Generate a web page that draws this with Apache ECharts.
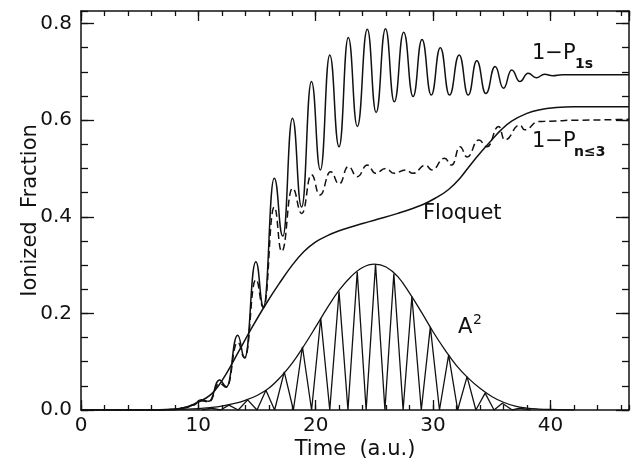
<!DOCTYPE html>
<html>
<head>
<meta charset="utf-8">
<script src="https://cdn.jsdelivr.net/npm/echarts@6/dist/echarts.min.js"></script>
<style>
html, body { margin: 0; padding: 0; background: #fff; }
#chart { width: 632px; height: 467px; }
</style>
</head>
<body>
<div id="chart"></div>
<script>
// axis ranges (a.u. / fraction)
const xMax = 46.7;
const yMax = 0.826;
const xMajor = 10, xMinor = 2;
const yMajor = 0.2, yMinor = 0.05;

// 1 - P_1s  [time, fraction], read at peaks / troughs
const p1s = [
    [0, 0], [6, 0], [8, 0.001], [9, 0.005], [9.5, 0.010], [10.25, 0.021], [10.9, 0.018],
    [11.8, 0.062], [12.4, 0.048], [13.35, 0.155], [13.95, 0.108], [14.9, 0.307], [15.55, 0.214],
    [16.47, 0.480], [17.2, 0.360], [18.02, 0.604], [18.8, 0.420], [19.64, 0.680], [20.4, 0.497],
    [21.2, 0.735], [21.99, 0.545], [22.78, 0.771], [23.55, 0.587], [24.4, 0.788], [25.15, 0.616],
    [25.95, 0.789], [26.7, 0.638], [27.5, 0.782], [28.3, 0.649], [29.06, 0.767], [29.85, 0.652],
    [30.62, 0.750], [31.4, 0.652], [32.23, 0.735], [33.0, 0.652], [33.73, 0.723], [34.5, 0.655],
    [35.29, 0.711], [36.0, 0.666], [36.7, 0.704], [37.4, 0.680], [38.1, 0.697], [38.8, 0.688],
    [39.5, 0.695], [40.2, 0.692], [41, 0.694], [46.7, 0.694]
];

// 1 - P_{n<=3}  (dashed)
const pn3 = [
    [0, 0], [6, 0], [8, 0.001], [9, 0.005], [9.5, 0.010], [10.25, 0.019], [10.9, 0.017],
    [11.8, 0.055], [12.4, 0.047], [13.35, 0.140], [13.95, 0.108], [14.9, 0.270], [15.55, 0.212],
    [16.47, 0.420], [17.1, 0.328], [18.02, 0.459], [18.82, 0.407], [19.64, 0.487], [20.35, 0.445],
    [21.28, 0.493], [22.0, 0.468], [22.78, 0.504], [23.54, 0.483], [24.4, 0.507], [25.1, 0.490],
    [25.95, 0.500], [26.7, 0.490], [27.65, 0.497], [28.3, 0.490], [29.35, 0.507], [29.9, 0.497],
    [30.98, 0.521], [31.6, 0.507], [32.3, 0.545], [32.9, 0.524], [33.9, 0.559], [34.6, 0.545],
    [35.6, 0.587], [36.1, 0.559], [37.4, 0.590], [37.8, 0.580], [39.0, 0.597], [40, 0.598],
    [42, 0.600], [46.7, 0.602]
];

// Floquet rate result
const floquet = [
    [0, 0], [6, 0], [8.4, 0.003], [9.8, 0.014], [11.2, 0.035], [12.4, 0.076], [13.5, 0.124],
    [14.6, 0.172], [15.8, 0.221], [16.9, 0.262], [18.0, 0.300], [19.0, 0.328], [20.0, 0.348],
    [21.0, 0.361], [22.0, 0.371], [23.0, 0.379], [24.0, 0.386], [25.0, 0.393], [27, 0.407],
    [29.1, 0.425], [30.3, 0.440], [31.3, 0.456], [32.3, 0.480], [33.3, 0.511], [34.2, 0.537],
    [35.0, 0.559], [35.8, 0.580], [36.7, 0.598], [38, 0.614], [39.0, 0.621], [40.5, 0.626],
    [42, 0.628], [46.7, 0.628]
];

// A^2 envelope
const envelope = [
    [6, 0], [8, 0.001], [10, 0.003], [11, 0.005], [12, 0.008], [13, 0.013], [14, 0.020],
    [15, 0.030], [16, 0.045], [17, 0.068], [18, 0.097], [19, 0.133], [20, 0.172], [21, 0.212],
    [22, 0.248], [23, 0.276], [24, 0.295], [25, 0.302], [26, 0.296], [27, 0.276], [28, 0.242],
    [29, 0.203], [30, 0.162], [31, 0.125], [32, 0.092], [33, 0.066], [34, 0.045], [35, 0.028],
    [36, 0.016], [37, 0.008], [38, 0.004], [39, 0.002], [40, 0.001], [42, 0]
];

// A^2 field oscillation (peaks on envelope, zeros between)
const a2 = [
    [10.3, 0], [11.1, 0.004], [11.9, 0], [12.6, 0.010], [13.4, 0], [14.2, 0.021], [15.0, 0],
    [15.76, 0.041], [16.5, 0], [17.32, 0.079], [18.1, 0], [18.87, 0.131], [19.65, 0],
    [20.43, 0.190], [21.2, 0], [21.99, 0.245], [22.75, 0], [23.54, 0.286], [24.3, 0],
    [25.1, 0.302], [25.9, 0], [26.66, 0.282], [27.45, 0], [28.2, 0.235], [29.0, 0],
    [29.77, 0.172], [30.55, 0], [31.33, 0.114], [32.1, 0], [32.9, 0.069], [33.65, 0],
    [34.44, 0.035], [35.2, 0], [35.9, 0.014], [36.75, 0], [37.4, 0.004], [38.3, 0]
];

const font = 'DejaVu Sans';
const ink = '#111';

const chart = echarts.init(document.getElementById('chart'));

// onZero off, otherwise the right/top frame axes jump to the zero line
const frame = { show: true, onZero: false, lineStyle: { color: ink, width: 1.5 } };
const noLine = { show: false, onZero: false };

function xAx(pos, step, len, labels, grid) {
    return {
        type: 'value', gridIndex: grid, position: pos, min: 0, max: xMax, interval: step,
        axisLine: grid === 0 ? frame : noLine,
        axisTick: { inside: true, length: len, lineStyle: { color: ink, width: 1.3 } },
        axisLabel: labels ? {
            show: true, color: ink, fontFamily: font, fontSize: 20, margin: 6,
            showMaxLabel: false
        } : { show: false },
        splitLine: { show: false }
    };
}
function yAx(pos, step, len, labels, grid) {
    return {
        type: 'value', gridIndex: grid, position: pos, min: 0, max: yMax, interval: step,
        axisLine: grid === 0 ? frame : noLine,
        axisTick: { inside: true, length: len, lineStyle: { color: ink, width: 1.3 } },
        axisLabel: labels ? {
            show: true, color: ink, fontFamily: font, fontSize: 20, margin: 9,
            showMaxLabel: false, formatter: v => v.toFixed(1)
        } : { show: false },
        splitLine: { show: false }
    };
}

const bottomX = xAx('bottom', xMajor, 10, true, 0);
bottomX.name = 'Time  (a.u.)';
bottomX.nameLocation = 'middle';
bottomX.nameGap = 29;
bottomX.nameMoveOverlap = false;
bottomX.nameTextStyle = { color: ink, fontFamily: font, fontSize: 21 };

const leftY = yAx('left', yMajor, 13, true, 0);
leftY.name = 'Ionized  Fraction';
leftY.nameLocation = 'middle';
leftY.nameGap = 40;
leftY.nameMoveOverlap = false;
leftY.nameTextStyle = { color: ink, fontFamily: font, fontSize: 21 };

const line = (data, extra) => Object.assign({
    type: 'line', data: data, showSymbol: false, symbol: 'none',
    xAxisIndex: 0, yAxisIndex: 0, animation: false,
    lineStyle: { color: ink, width: 1.5 }, z: 3
}, extra);

const gridBox = { left: 81, right: 3, top: 11, bottom: 57, outerBoundsMode: 'none', containLabel: false };

const option = {
    animation: false,
    backgroundColor: '#fff',
    grid: [Object.assign({}, gridBox), Object.assign({}, gridBox)],
    xAxis: [
        bottomX,
        xAx('top', xMajor, 10, false, 0),
        xAx('bottom', xMinor, 5, false, 1),
        xAx('top', xMinor, 5, false, 1)
    ],
    yAxis: [
        leftY,
        yAx('right', yMajor, 13, false, 0),
        yAx('left', yMinor, 7, false, 1),
        yAx('right', yMinor, 7, false, 1)
    ],
    series: [
        line(p1s, { smooth: 0.5, smoothMonotone: 'x' }),
        line(pn3, { smooth: 0.5, smoothMonotone: 'x', lineStyle: { color: ink, width: 1.5, type: [7, 4] } }),
        line(floquet, { smooth: 0.4 }),
        line(envelope, { smooth: 0.4, lineStyle: { color: ink, width: 1.3 } }),
        line(a2, { lineStyle: { color: ink, width: 1.3 } })
    ],
    graphic: [
        { type: 'text', left: 532, top: 43, style: { text: '1\u2212P', fill: ink, font: '21px "DejaVu Sans"' } },
        { type: 'text', left: 575, top: 57, style: { text: '1s', fill: ink, font: 'bold 14px "DejaVu Sans"' } },
        { type: 'text', left: 532, top: 131, style: { text: '1\u2212P', fill: ink, font: '21px "DejaVu Sans"' } },
        { type: 'text', left: 574, top: 145, style: { text: 'n\u22643', fill: ink, font: 'bold 14px "DejaVu Sans"' } },
        { type: 'text', left: 423, top: 203, style: { text: 'Floquet', fill: ink, font: '21px "DejaVu Sans"' } },
        { type: 'text', left: 458, top: 317, style: { text: 'A', fill: ink, font: '21px "DejaVu Sans"' } },
        { type: 'text', left: 473, top: 313, style: { text: '2', fill: ink, font: '14px "DejaVu Sans"' } }
    ]
};

chart.setOption(option);
</script>
</body>
</html>
